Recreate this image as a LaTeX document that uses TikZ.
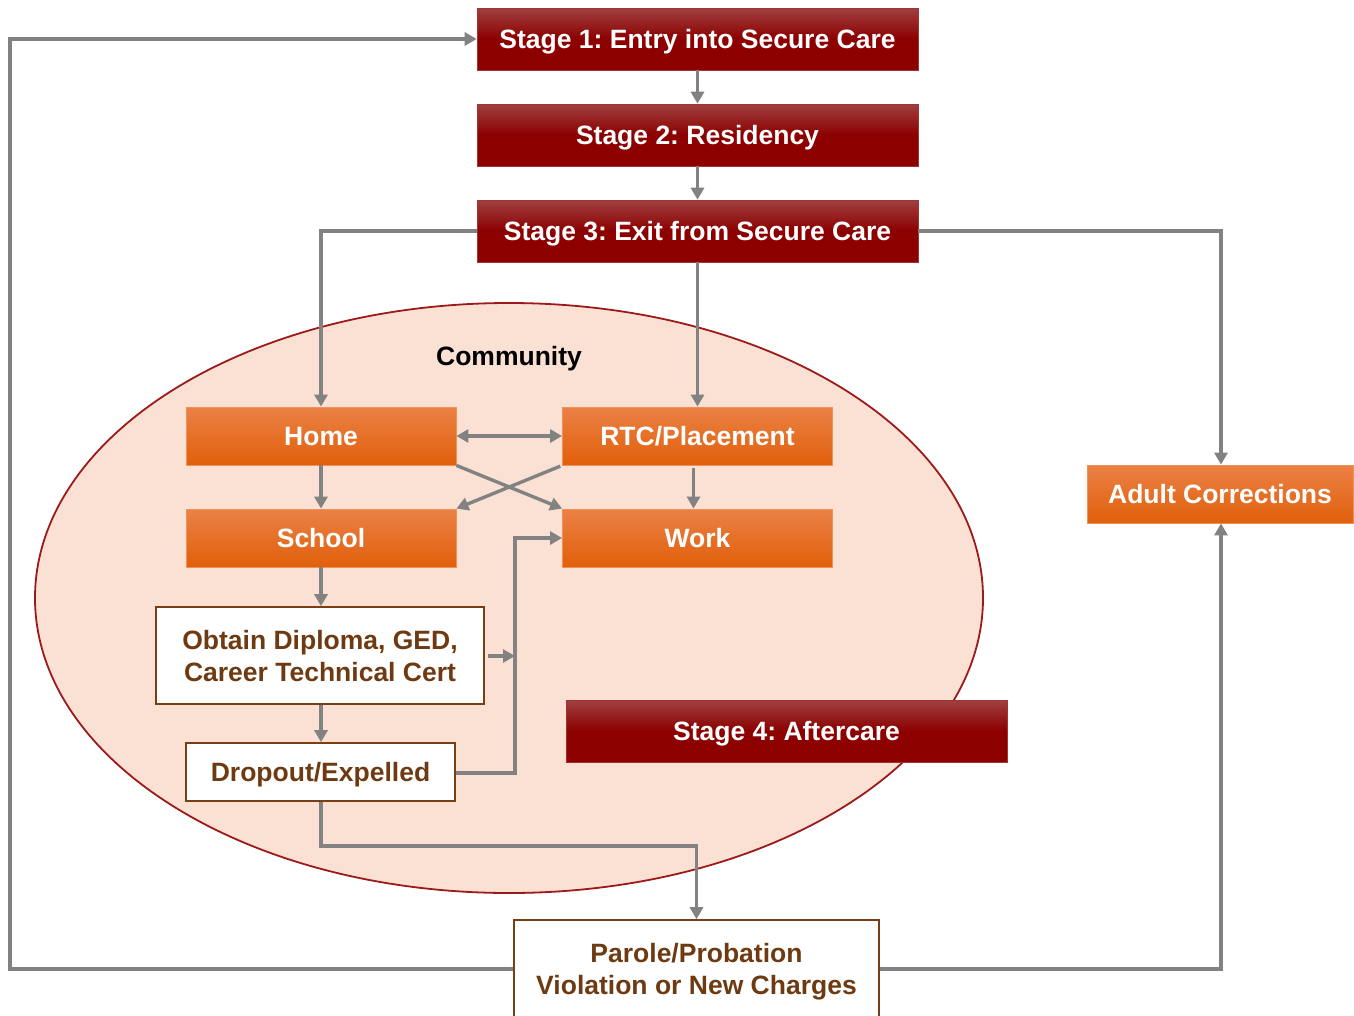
\documentclass[tikz,border=0pt]{standalone}
\usepackage{fontspec}
\setmainfont{Liberation Sans}
\usetikzlibrary{arrows.meta,shapes.geometric}
\definecolor{stgtop}{HTML}{A04040}
\definecolor{stgbot}{HTML}{8C0000}
\definecolor{ortop}{HTML}{EB8146}
\definecolor{orbot}{HTML}{E15F0A}
\definecolor{orline}{HTML}{F0915A}
\definecolor{ellfill}{HTML}{FAE1D3}
\definecolor{elldraw}{HTML}{9C1A1A}
\definecolor{conncol}{HTML}{828282}
\definecolor{browntxt}{HTML}{6E3A12}
\definecolor{brownline}{HTML}{7A3E14}
\newcommand{\bigfont}{\fontsize{26.5}{32}\selectfont\bfseries}
\tikzset{
  stagebox/.style={rectangle, inner sep=0pt, minimum width=441pt, minimum height=62pt,
    top color=stgtop, bottom color=stgbot, middle color=stgbot, draw=stgbot!80!white, line width=0.6pt,
    text=white, font=\bigfont, text height=19pt, text depth=0pt},
  orbox/.style={rectangle, inner sep=0pt, minimum width=270pt, minimum height=58pt,
    top color=ortop, bottom color=orbot, draw=orline, line width=0.8pt,
    text=white, font=\bigfont, text height=19pt, text depth=0pt},
  whbox/.style={rectangle, inner sep=0pt, fill=white, draw=brownline, line width=1.6pt,
    text=browntxt, align=center, font=\bigfont, text height=19pt, text depth=0pt},
  twoline/.style={text height=51pt, text depth=0pt},
  conn/.style={draw=conncol, line width=3.4pt, -{Triangle[width=13pt,length=12pt]}},
  dconn/.style={draw=conncol, line width=3.4pt, {Triangle[width=13pt,length=12pt]}-{Triangle[width=13pt,length=12pt]}},
}
\begin{document}
\frenchspacing
\begin{tikzpicture}[x=1pt,y=-1pt]
\useasboundingbox (0,0) rectangle (1354,1015);
\fill[white] (0,0) rectangle (1354,1015);
% community ellipse
\node[ellipse, inner sep=0pt, minimum width=948pt, minimum height=590pt, fill=ellfill, draw=elldraw, line width=1.8pt] (comm) at (509,598) {};
\node[font=\bigfont, text=black, text height=19pt, text depth=0pt, inner sep=0pt] (commlbl) at (509,356) {Community};
% stages
\node[stagebox] (s1) at (697.5,39) {Stage 1: Entry into Secure Care};
\node[stagebox] (s2) at (697.5,135) {Stage 2: Residency};
\node[stagebox] (s3) at (697.5,231) {Stage 3: Exit from Secure Care};
\node[stagebox] (s4) at (786.5,731) {Stage 4: Aftercare};
% orange boxes
\node[orbox] (home) at (321,436) {Home};
\node[orbox] (rtc) at (697.5,436) {RTC/Placement};
\node[orbox] (school) at (321,538) {School};
\node[orbox] (work) at (697.5,538) {Work};
\node[orbox, minimum width=266pt] (adult) at (1220,494) {Adult Corrections};
% white boxes
\node[whbox, twoline, minimum width=328pt, minimum height=97pt] (obt) at (320,655.5) {Obtain Diploma, GED,\\Career Technical Cert};
\node[whbox, minimum width=269pt, minimum height=58pt] (drop) at (320.5,772) {Dropout/Expelled};
\node[whbox, twoline, minimum width=365pt, minimum height=98pt] (par) at (696.5,969) {Parole/Probation\\Violation or New Charges};
% helper coordinates
\coordinate (lc) at (10,969);
\coordinate (jn) at (515,656);
\coordinate (jd) at (515,773);
% connectors
\draw[conn] (par.west) -- (lc) |- (s1.west);
\draw[conn] (s1.south) -- (s2.north);
\draw[conn] (s2.south) -- (s3.north);
\draw[conn] (s3.west) -| (home.north);
\draw[conn] (s3.south) -- (rtc.north);
\draw[conn] (s3.east) -| ([xshift=1pt]adult.north);
\draw[conn] (par.east) -| ([xshift=1pt]adult.south);
\draw[dconn] (home.east) -- (rtc.west);
\draw[conn] (home.south) -- (school.north);
\draw[conn, shorten <=3pt] ([xshift=-4pt]rtc.south) -- ([xshift=-4pt]work.north);
\draw[conn] (home.south east) -- (work.north west);
\draw[conn, shorten <=2pt] (rtc.south west) -- (school.north east);
\draw[conn] (school.south) -- (school.south |- obt.north);
\draw[conn] (school.south |- obt.south) -- (school.south |- drop.north);
\draw[conn, shorten <=3pt] (obt.east |- jn) -- (jn);
\draw[conn] (drop.east |- jd) -- (jd) |- (work.west);
\draw[conn] (school.south |- drop.south) -- ++(0,44) -| (par.north);
\end{tikzpicture}
\end{document}
